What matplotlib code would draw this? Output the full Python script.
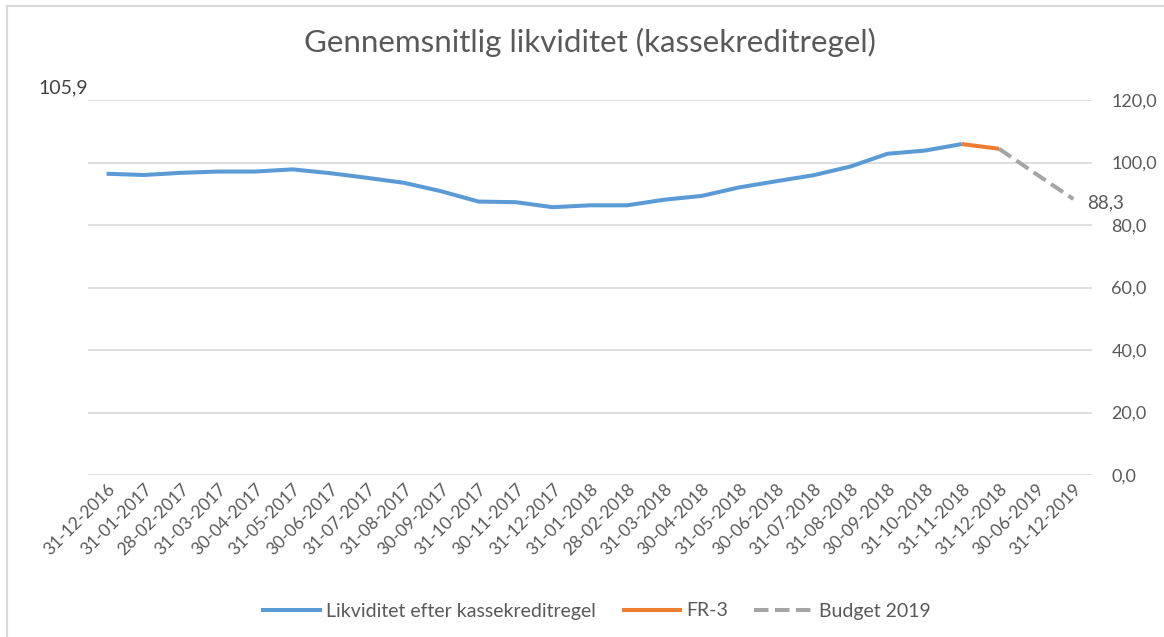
import numpy as np
import matplotlib.pyplot as plt
from matplotlib.lines import Line2D

plt.rcParams['font.family'] = ['Lato', 'DejaVu Sans']

kategorier = ['31-12-2016', '31-01-2017', '28-02-2017', '31-03-2017', '30-04-2017',
              '31-05-2017', '30-06-2017', '31-07-2017', '31-08-2017', '30-09-2017',
              '31-10-2017', '30-11-2017', '31-12-2017', '31-01-2018', '28-02-2018',
              '31-03-2018', '30-04-2018', '31-05-2018', '30-06-2018', '31-07-2018',
              '31-08-2018', '30-09-2018', '31-10-2018', '31-11-2018', '31-12-2018',
              '30-06-2019', '31-12-2019']

# Likviditet efter kassekreditregel (31-12-2016 .. 31-11-2018)
likviditet = [96.4, 96.0, 96.7, 97.1, 97.1, 97.8, 96.6, 95.1, 93.5, 90.8,
              87.5, 87.3, 85.7, 86.3, 86.3, 88.1, 89.3, 92.0, 94.0, 95.9,
              98.7, 102.8, 103.8, 105.9]
# FR-3 (31-11-2018 .. 31-12-2018)
fr3 = [105.9, 104.4]
# Budget 2019 (31-12-2018 .. 31-12-2019)
budget = [104.4, 96.3, 88.3]

blaa = '#5B9BD5'
orange = '#ED7D31'
graa = '#A5A5A5'
tekst = '#595959'

n = len(kategorier)
x = np.arange(n)
x_lik = x[:len(likviditet)]
x_fr3 = x[len(likviditet) - 1:len(likviditet) - 1 + len(fr3)]
x_bud = x[n - len(budget):]

W, H = 1164, 637
fig = plt.figure(figsize=(W / 100, H / 100), dpi=100)
fig.set_facecolor('white')

# ramme om diagrammet (kun venstre og top synlig)
fig.add_artist(Line2D([7 / W, 7 / W], [0, 1 - 6 / H], color='#D9D9D9', lw=1.5))
fig.add_artist(Line2D([7 / W, 1], [1 - 6 / H, 1 - 6 / H], color='#D9D9D9', lw=1.5))

ax = fig.add_axes([88 / W, 1 - 475 / H, (1092 - 88) / W, (475 - 100) / H])
lw = 2.9
ax.plot(x_lik, likviditet, color=blaa, lw=lw, solid_capstyle='butt',
        label='Likviditet efter kassekreditregel', zorder=3)
ax.plot(x_fr3, fr3, color=orange, lw=lw, solid_capstyle='butt', label='FR-3', zorder=4)
ax.plot(x_bud, budget, color=graa, lw=lw, dashes=(3.6, 1.6), label='Budget 2019', zorder=3)

ax.set_xlim(-0.5, n - 0.5)
ax.set_ylim(0, 120)
ax.set_yticks(np.arange(0, 121, 20))
ax.set_yticklabels([f'{v:.1f}'.replace('.', ',') for v in np.arange(0, 121, 20)])
ax.yaxis.tick_right()
ax.tick_params(axis='y', length=0, pad=14, labelsize=13, labelcolor=tekst)
ax.grid(axis='y', color='#D9D9D9', lw=1.2)
ax.set_axisbelow(True)
for s in ax.spines.values():
    s.set_visible(False)

ax.set_xticks(x)
ax.set_xticklabels(kategorier, rotation=45, ha='right', rotation_mode='anchor')
ax.tick_params(axis='x', length=0, pad=4, labelsize=12.5, labelcolor=tekst)

# datamærker
ax.annotate(f'{budget[-1]:.1f}'.replace('.', ','), (x_bud[-1], budget[-1]),
            xytext=(10, -3), textcoords='offset points', ha='left', va='center',
            fontsize=13.5, color=tekst)
fig.text(38 / W, 1 - 88 / H, f'{fr3[0]:.1f}'.replace('.', ','), ha='left', va='center',
         fontsize=14, color='#404040')

fig.text(590 / W, 1 - 42 / H, 'Gennemsnitlig likviditet (kassekreditregel)',
         ha='center', va='center', fontsize=22.5, color=tekst)

fig.legend(loc='center', bbox_to_anchor=(596 / W, 1 - 611 / H), ncol=3, frameon=False,
           fontsize=14, handlelength=3.1, columnspacing=1.3, handletextpad=0.25,
           labelcolor=tekst)

plt.savefig('out.png', dpi=100)
